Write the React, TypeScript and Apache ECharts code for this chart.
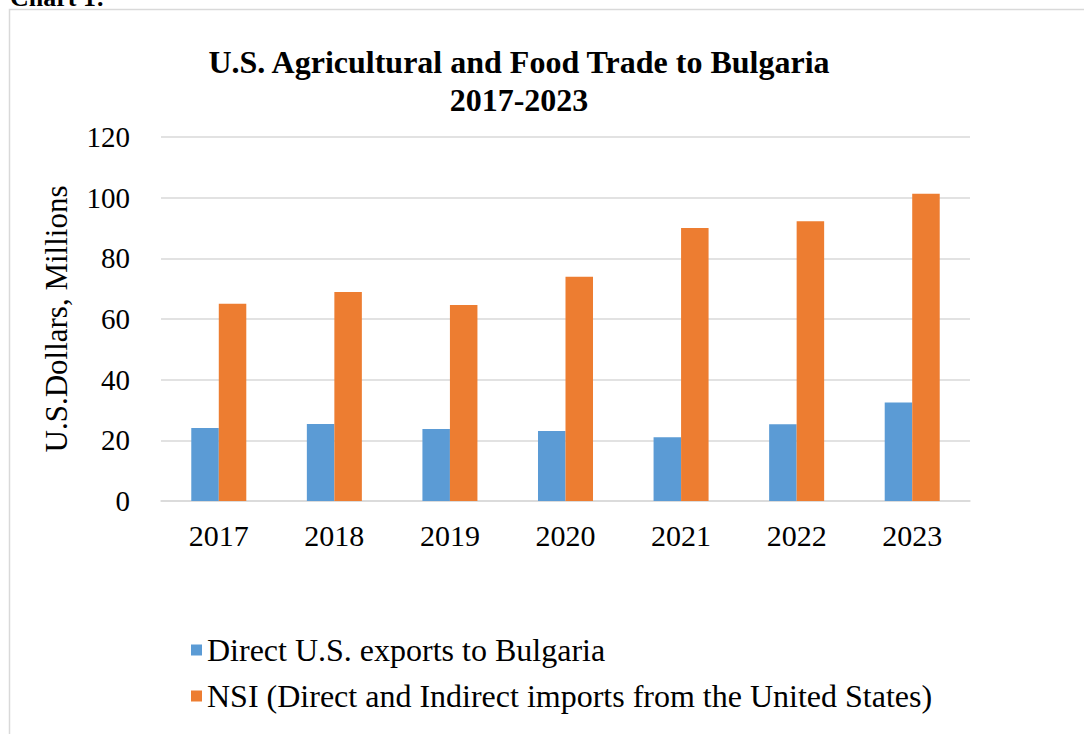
import React, { useEffect, useRef } from "react";
import * as echarts from "echarts";

const years = ["2017", "2018", "2019", "2020", "2021", "2022", "2023"];
const directExports = [24.1, 25.4, 23.7, 23.1, 21.0, 25.3, 32.5];
const nsiImports = [65.0, 68.9, 64.6, 73.9, 90.0, 92.2, 101.3];
const seriesNames = [
  "Direct U.S. exports to Bulgaria",
  "NSI (Direct and Indirect imports from the United States)",
];

const FONT = "Liberation Serif";

export default function App() {
  const ref = useRef<HTMLDivElement>(null);
  useEffect(() => {
    if (!ref.current) return;
    const chart = echarts.init(ref.current, null, { renderer: "svg" });
    chart.setOption({
      animation: false,
      textStyle: { fontFamily: FONT },
      title: {
        text: "U.S. Agricultural and Food Trade to Bulgaria\n2017-2023",
        left: 514,
        textAlign: "center",
        top: 38,
        textStyle: {
          fontFamily: FONT,
          fontWeight: "bold",
          fontSize: 32,
          lineHeight: 38,
          color: "#000",
        },
      },
      graphic: [
        {
          type: "rect",
          shape: { x: 9.5, y: 9.5, width: 1200, height: 900 },
          style: { fill: "none", stroke: "#d9d9d9", lineWidth: 1.5 },
          silent: true,
        },
        {
          type: "text",
          left: 10,
          top: -16,
          style: {
            text: "Chart 1:",
            font: "bold 26px " + FONT,
            fill: "#000",
          },
        },
      ],
      legend: {
        orient: "vertical",
        left: 186,
        top: 629,
        itemWidth: 11,
        itemHeight: 11,
        itemGap: 14,
        icon: "rect",
        textStyle: {
          fontFamily: FONT,
          fontSize: 32,
          color: "#000",
        },
        data: seriesNames,
      },
      grid: { left: 161, right: 114, top: 137, bottom: 233 },
      xAxis: {
        type: "category",
        data: years,
        axisLine: { lineStyle: { color: "#d9d9d9", width: 1.5 } },
        axisTick: { show: false },
        axisLabel: { fontFamily: FONT, fontSize: 30, color: "#000", margin: 19 },
      },
      yAxis: {
        type: "value",
        min: 0,
        max: 120,
        interval: 20,
        name: "U.S.Dollars, Millions",
        nameLocation: "middle",
        nameRotate: 90,
        nameGap: 89,
        nameTextStyle: { fontFamily: FONT, fontSize: 31, color: "#000" },
        axisLine: { show: false },
        axisTick: { show: false },
        axisLabel: { fontFamily: FONT, fontSize: 29, color: "#000", margin: 31 },
        splitLine: { lineStyle: { color: "#d9d9d9", width: 1.5 } },
      },
      series: [
        {
          name: seriesNames[0],
          type: "bar",
          data: directExports,
          barWidth: "23.8%",
          barGap: "0%",
          itemStyle: { color: "#5b9bd5" },
        },
        {
          name: seriesNames[1],
          type: "bar",
          data: nsiImports,
          barWidth: "23.8%",
          barGap: "0%",
          itemStyle: { color: "#ed7d31" },
        },
      ],
    });
    return () => chart.dispose();
  }, []);
  return (
    <div
      ref={ref}
      style={{ position: "fixed", left: 0, top: 0, width: 1084, height: 734, background: "#fff" }}
    />
  );
}
